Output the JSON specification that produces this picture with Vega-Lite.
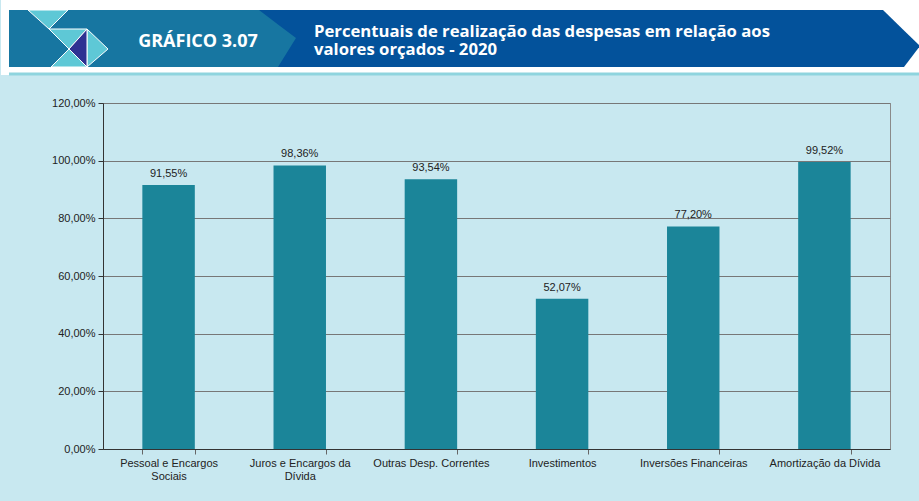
{
  "$schema": "https://vega.github.io/schema/vega-lite/v6.json",
  "padding": 0,
  "spacing": 20,
  "background": "#c8e8f0",
  "config": {
    "locale": {"number": {"decimal": ",", "thousands": ".", "grouping": [3], "currency": ["R$", ""]}},
    "font": "Liberation Sans"
  },
  "datasets": {
    "bars": [
      {"cat": "Pessoal e Encargos Sociais", "v": 0.9155},
      {"cat": "Juros e Encargos da Dívida", "v": 0.9836},
      {"cat": "Outras Desp. Correntes", "v": 0.9354},
      {"cat": "Investimentos", "v": 0.5207},
      {"cat": "Inversões Financeiras", "v": 0.772},
      {"cat": "Amortização da Dívida", "v": 0.9952}
    ],
    "bg": [{"x": 0, "x2": 919, "y": 0, "y2": 75}],
    "dark": [
      {"x": 258, "y": 10, "y2": 67},
      {"x": 882, "y": 10, "y2": 67},
      {"x": 903, "y": 30.4, "y2": 67},
      {"x": 919, "y": 46, "y2": 46}
    ],
    "light": [
      {"x": 8, "y": 10, "y2": 67},
      {"x": 258, "y": 10, "y2": 67},
      {"x": 277, "y": 24.4, "y2": 67},
      {"x": 295, "y": 38, "y2": 38}
    ],
    "tris": [
      {"id": "t1", "kind": "cyan", "x": 27, "y": 10, "y2": 10},
      {"id": "t1", "kind": "cyan", "x": 48, "y": 10, "y2": 29},
      {"id": "t1", "kind": "cyan", "x": 67, "y": 10, "y2": 10},
      {"id": "t2", "kind": "cyan", "x": 48, "y": 29, "y2": 29},
      {"id": "t2", "kind": "cyan", "x": 68, "y": 29, "y2": 49},
      {"id": "t2", "kind": "cyan", "x": 86, "y": 29, "y2": 29},
      {"id": "t4", "kind": "cyan", "x": 86, "y": 29, "y2": 67},
      {"id": "t4", "kind": "cyan", "x": 107, "y": 49, "y2": 49},
      {"id": "t5", "kind": "cyan", "x": 50, "y": 67, "y2": 67},
      {"id": "t5", "kind": "cyan", "x": 68, "y": 49, "y2": 67},
      {"id": "t5", "kind": "cyan", "x": 86, "y": 67, "y2": 67},
      {"id": "t3", "kind": "navy", "x": 68, "y": 49, "y2": 49},
      {"id": "t3", "kind": "navy", "x": 86, "y": 29, "y2": 67}
    ],
    "badge": [{"t": "GRÁFICO 3.07", "x": 197, "y": 47}],
    "titles": [
      {"t": ["Percentuais de realização das despesas em relação aos", "valores orçados - 2020"], "x": 313, "y": 37}
    ],
    "border": [{"x": 8, "x2": 919, "y": 74}]
  },
  "vconcat": [
    {
      "width": 817,
      "height": 75,
      "view": {"stroke": null, "fill": "white"},
      "layer": [
        {
          "data": {"name": "bg"},
          "mark": {"type": "rect", "color": "white", "clip": false},
          "encoding": {
            "x": {"field": "x", "type": "quantitative", "scale": {"domain": [102, 919], "nice": false, "zero": false}, "axis": null},
            "x2": {"field": "x2"},
            "y": {"field": "y", "type": "quantitative", "scale": {"domain": [0, 75], "nice": false, "reverse": true}, "axis": null},
            "y2": {"field": "y2"}
          }
        },
        {
          "data": {"name": "dark"},
          "mark": {"type": "area", "color": "#03529b", "clip": false},
          "encoding": {
            "x": {"field": "x", "type": "quantitative"},
            "y": {"field": "y", "type": "quantitative"},
            "y2": {"field": "y2"}
          }
        },
        {
          "data": {"name": "light"},
          "mark": {"type": "area", "color": "#1776a1", "clip": false},
          "encoding": {
            "x": {"field": "x", "type": "quantitative"},
            "y": {"field": "y", "type": "quantitative"},
            "y2": {"field": "y2"}
          }
        },
        {
          "data": {"name": "tris"},
          "mark": {"type": "area", "stroke": "white", "strokeWidth": 1, "clip": false},
          "encoding": {
            "x": {"field": "x", "type": "quantitative"},
            "y": {"field": "y", "type": "quantitative", "stack": null},
            "y2": {"field": "y2"},
            "detail": {"field": "id"},
            "fill": {"field": "kind", "type": "nominal", "scale": {"domain": ["cyan", "navy"], "range": ["#5ec8d6", "#2e3192"]}, "legend": null}
          }
        },
        {
          "data": {"name": "badge"},
          "mark": {"type": "text", "font": "Open Sans", "fontWeight": "bold", "fontSize": 18, "color": "white", "align": "center", "baseline": "alphabetic"},
          "encoding": {
            "x": {"field": "x", "type": "quantitative"},
            "y": {"field": "y", "type": "quantitative"},
            "text": {"field": "t"}
          }
        },
        {
          "data": {"name": "titles"},
          "mark": {"type": "text", "font": "Open Sans", "fontWeight": "bold", "fontSize": 16.7, "lineHeight": 18, "color": "white", "align": "left", "baseline": "alphabetic"},
          "encoding": {
            "x": {"field": "x", "type": "quantitative"},
            "y": {"field": "y", "type": "quantitative"},
            "text": {"field": "t"}
          }
        },
        {
          "data": {"name": "border"},
          "mark": {"type": "rule", "color": "#8fd4de", "strokeWidth": 3, "clip": false},
          "encoding": {
            "x": {"field": "x", "type": "quantitative"},
            "x2": {"field": "x2"},
            "y": {"field": "y", "type": "quantitative"}
          }
        }
      ],
      "resolve": {"scale": {"fill": "independent"}}
    },
    {
      "width": 787,
      "height": 346,
      "view": {"stroke": "#8a8a8a", "fill": null},
      "data": {"name": "bars"},
      "encoding": {
        "x": {
          "field": "cat", "type": "nominal", "sort": null,
          "scale": {"paddingInner": 0.6, "paddingOuter": 0.3},
          "axis": {
            "title": null, "labelAngle": 0, "tickBand": "extent", "tickSize": 5,
            "domainColor": "#333", "tickColor": "#666", "labelFont": "Liberation Sans",
            "labelFontSize": 11, "labelColor": "#222", "labelPadding": 3, "labelLineHeight": 13,
            "minExtent": 52, "maxExtent": 52,
            "labelExpr": "datum.label == 'Pessoal e Encargos Sociais' ? ['Pessoal e Encargos', 'Sociais'] : datum.label == 'Juros e Encargos da Dívida' ? ['Juros e Encargos da', 'Dívida'] : datum.label"
          }
        },
        "y": {
          "field": "v", "type": "quantitative",
          "scale": {"domain": [0, 1.2], "nice": false},
          "axis": {
            "title": null, "format": ".2%", "values": [0, 0.2, 0.4, 0.6, 0.8, 1.0, 1.2],
            "grid": true, "gridColor": "#777", "gridWidth": 1, "domainColor": "#333",
            "tickColor": "#333", "tickSize": 5, "labelPadding": 3,
            "labelFont": "Liberation Sans", "labelFontSize": 11, "labelColor": "#222",
            "minExtent": 102, "maxExtent": 102
          }
        }
      },
      "layer": [
        {"mark": {"type": "bar", "color": "#1b8599"}},
        {
          "mark": {"type": "text", "baseline": "bottom", "dy": -6, "fontSize": 11, "color": "#222", "font": "Liberation Sans"},
          "encoding": {"text": {"field": "v", "type": "quantitative", "format": ".2%"}}
        }
      ]
    }
  ]
}
